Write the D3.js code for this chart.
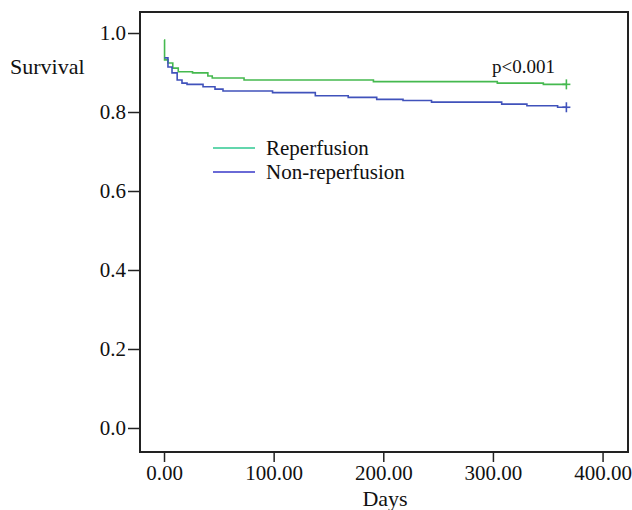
<!DOCTYPE html>
<html>
<head>
<meta charset="utf-8">
<script src="https://cdn.jsdelivr.net/npm/d3@7"></script>
<style>
  body { margin: 0; background: #fff; }
  text { font-family: "Liberation Serif", "DejaVu Serif", serif; fill: #111; }
</style>
</head>
<body>
<script>
// Kaplan-Meier steps (days, survival)
var reperfDays = [0, 0.5, 3.6, 8, 13, 26, 40, 44, 73, 191, 304, 346, 367];
var reperfSurv = [0.982, 0.932, 0.924, 0.911, 0.902, 0.899, 0.891, 0.886, 0.881, 0.877, 0.873, 0.870, 0.870];

var nonReperfDays = [0.5, 3.6, 7.3, 12, 16.4, 21, 35.6, 46.5, 53.8, 99, 138, 168, 194, 218, 244, 308, 331, 359, 367];
var nonReperfSurv = [0.937, 0.914, 0.899, 0.881, 0.873, 0.870, 0.864, 0.858, 0.853, 0.849, 0.841, 0.837, 0.832, 0.829, 0.825, 0.820, 0.816, 0.812, 0.812];

var xTicks = [0, 100, 200, 300, 400];
var yTicks = [0, 0.2, 0.4, 0.6, 0.8, 1.0];
var seriesNames = ["Reperfusion", "Non-reperfusion"];

var W = 632, H = 510;
var plotLeft = 140, plotRight = 628, plotTop = 12, plotBottom = 452;

var svg = d3.select("body").append("svg")
    .attr("width", W)
    .attr("height", H);

var xScale = d3.scaleLinear().domain([-21.9, 423.2]).range([plotLeft, plotRight]);
var yScale = d3.scaleLinear().domain([-0.0608, 1.0532]).range([plotBottom, plotTop]);

// frame
svg.append("rect")
    .attr("x", plotLeft).attr("y", plotTop)
    .attr("width", plotRight - plotLeft).attr("height", plotBottom - plotTop)
    .attr("fill", "none")
    .attr("stroke", "#222")
    .attr("stroke-width", 2);

// x axis
var xAxis = d3.axisBottom(xScale).tickValues(xTicks).tickSize(10).tickSizeOuter(0)
    .tickFormat(d3.format(".2f"));
var gx = svg.append("g")
    .attr("transform", "translate(0," + plotBottom + ")")
    .call(xAxis);
gx.select(".domain").remove();
gx.selectAll("line").attr("stroke", "#222").attr("stroke-width", 1.5);
gx.selectAll("text").attr("dy", "0").attr("y", 28).style("font-size", "21px")
    .style("font-family", "Liberation Serif").attr("fill", "#111");

// y axis
var yAxis = d3.axisLeft(yScale).tickValues(yTicks).tickSize(12).tickSizeOuter(0)
    .tickFormat(d3.format(".1f"));
var gy = svg.append("g")
    .attr("transform", "translate(" + plotLeft + ",0)")
    .call(yAxis);
gy.select(".domain").remove();
gy.selectAll("line").attr("stroke", "#222").attr("stroke-width", 1.5);
gy.selectAll("text").attr("x", -14).attr("dy", "0.33em").style("font-size", "21px")
    .style("font-family", "Liberation Serif").attr("fill", "#111");

// labels
svg.append("text").attr("x", 10).attr("y", 74)
    .style("font-size", "22px").text("Survival");
svg.append("text").attr("x", 385).attr("y", 506)
    .attr("text-anchor", "middle")
    .style("font-size", "22px").text("Days");
svg.append("text").attr("x", 492).attr("y", 73)
    .style("font-size", "19px").text("p<0.001");

// curves
var line = d3.line()
    .x(function(d) { return xScale(d.t); })
    .y(function(d) { return yScale(d.s); })
    .curve(d3.curveStepAfter);

var series = [
  {days: reperfDays, surv: reperfSurv, color: "#45b94f"},
  {days: nonReperfDays, surv: nonReperfSurv, color: "#4052bb"}
];

series.forEach(function(s) {
  var pts = s.days.map(function(t, i) { return {t: t, s: s.surv[i]}; });
  svg.append("path")
      .datum(pts)
      .attr("d", line)
      .attr("fill", "none")
      .attr("stroke", s.color)
      .attr("stroke-width", 1.6);
  // censor mark (+) at the end
  var last = pts[pts.length - 1];
  var cx = xScale(last.t), cy = yScale(last.s);
  svg.append("line")
      .attr("x1", cx).attr("x2", cx)
      .attr("y1", cy - 5).attr("y2", cy + 5)
      .attr("stroke", s.color)
      .attr("stroke-width", 1.6);
  svg.append("line")
      .attr("x1", cx - 4).attr("x2", cx + 4)
      .attr("y1", cy).attr("y2", cy)
      .attr("stroke", s.color)
      .attr("stroke-width", 1.6);
});

// legend
var legendColors = ["#2fc892", "#3838c8"];
var legend = svg.selectAll(".legend")
    .data(seriesNames)
  .enter().append("g")
    .attr("class", "legend")
    .attr("transform", function(d, i) { return "translate(213," + (148 + i * 24) + ")"; });

legend.append("line")
    .attr("x1", 0).attr("x2", 42)
    .attr("y1", 0).attr("y2", 0)
    .attr("stroke", function(d, i) { return legendColors[i]; })
    .attr("stroke-width", 1.6);

legend.append("text")
    .attr("x", 53).attr("y", 7)
    .style("font-size", "21px")
    .text(function(d) { return d; });
</script>
</body>
</html>
